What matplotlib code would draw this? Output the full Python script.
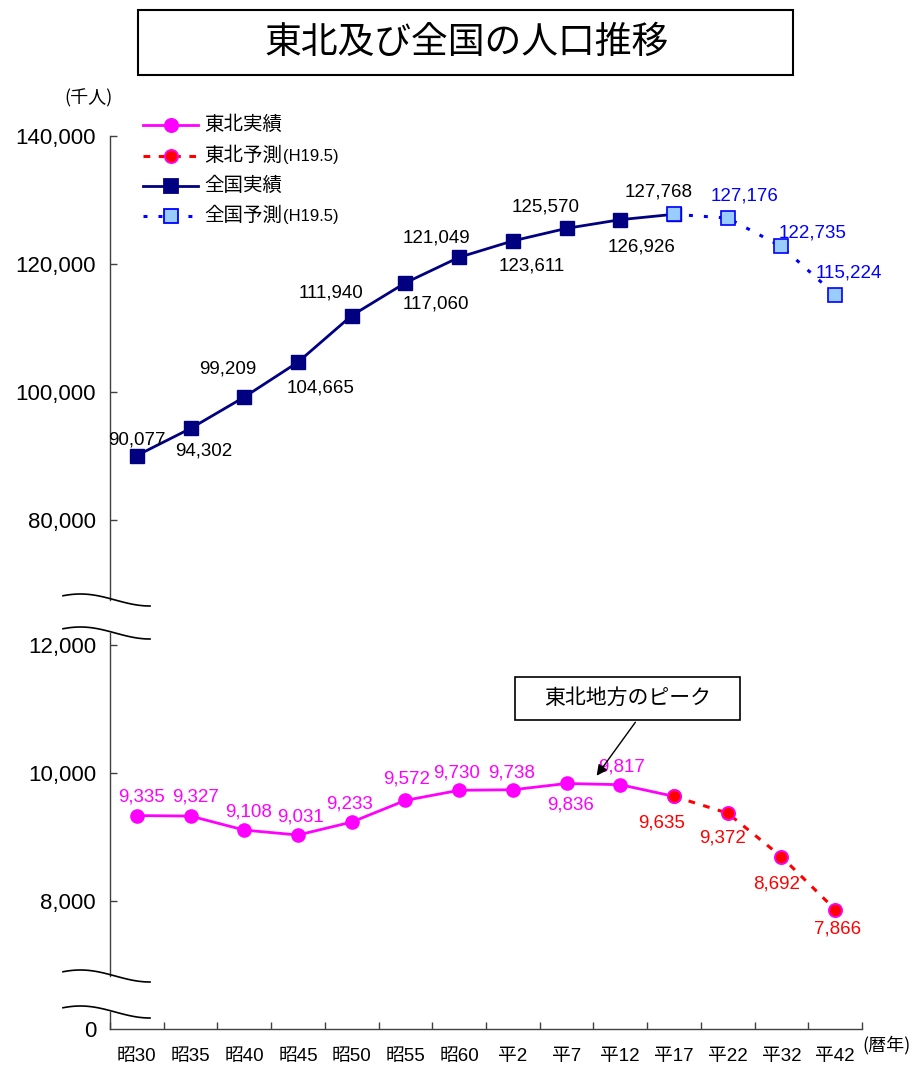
import matplotlib
matplotlib.use("Agg")
import matplotlib.pyplot as plt
from matplotlib.lines import Line2D
from matplotlib.patches import Rectangle, FancyArrowPatch
from matplotlib.ticker import FuncFormatter
import numpy as np

plt.rcParams['font.family'] = ['Liberation Sans', 'Noto Sans CJK JP', 'DejaVu Sans']
CJK_FIRST = ['Noto Sans CJK JP', 'Liberation Sans', 'DejaVu Sans']

# ---------------- data ----------------
years = ['昭30', '昭35', '昭40', '昭45', '昭50', '昭55', '昭60',
         '平2', '平7', '平12', '平17', '平22', '平32', '平42']
national_actual = [90077, 94302, 99209, 104665, 111940, 117060, 121049,
                   123611, 125570, 126926, 127768]
national_forecast = [127768, 127176, 122735, 115224]
tohoku_actual = [9335, 9327, 9108, 9031, 9233, 9572, 9730,
                 9738, 9836, 9817, 9635]
tohoku_forecast = [9635, 9372, 8692, 7866]

top_ticks = [80000, 100000, 120000, 140000]
mid_ticks = [8000, 10000, 12000]

# label offsets (pixels: right, up)
nat_act_off = [(0, 16), (13, -23), (-17, 28), (23, -26), (-21, 23), (30, -21),
               (-23, 19), (19, -25), (-21, 21), (21, -27), (-15, 22)]
nat_fc_off = [(17, 22), (31, 13), (14, 22)]
toh_act_off = [(5, 19), (5, 19), (4, 18), (2, 18), (-2, 18), (1, 21),
               (-3, 17), (-1, 17), (4, -22), (1, 18), (-12, -27)]
toh_fc_off = [(-5, -25), (-5, -27), (2, -19)]

W, H = 915, 1070
fig = plt.figure(figsize=(W / 100, H / 100), dpi=100)


def fx(x):
    return x / W


def fy(y):
    return 1 - y / H


L, R = 110, 862
NAVY = '#000080'
MAG = '#FF00FF'
RED = '#FF0000'
BLUE = '#0000FF'
LBLUE = '#99CCFF'
AXC = '#404040'

ax_top = fig.add_axes([fx(L), fy(600), (R - L) / W, (600 - 136) / H])
ax_mid = fig.add_axes([fx(L), fy(976), (R - L) / W, (976 - 633) / H])
ax_bot = fig.add_axes([fx(L), fy(1029), (R - L) / W, (1029 - 1012) / H])

n = len(years)
x_all = np.arange(n)
x_act = x_all[:len(national_actual)]
x_fc = x_all[len(national_actual) - 1:]

for ax in (ax_top, ax_mid, ax_bot):
    ax.set_xlim(-0.5, n - 0.5)
    ax.patch.set_alpha(0)
    for s in ('top', 'right', 'bottom'):
        ax.spines[s].set_visible(False)
    ax.spines['left'].set_color(AXC)
    ax.spines['left'].set_linewidth(1.0)
    ax.tick_params(axis='y', direction='in', length=5, width=1.0, color=AXC,
                   labelsize=16, pad=10)
    ax.tick_params(axis='x', bottom=False, labelbottom=False)

fmt = FuncFormatter(lambda v, p: f'{int(v):,}')

# top panel
ax_top.set_ylim(67500, 140000)
ax_top.set_yticks(top_ticks)
ax_top.yaxis.set_major_formatter(fmt)
ax_top.plot(x_act, national_actual, color=NAVY, lw=2, marker='s', ms=9.5,
            mfc=NAVY, mec=NAVY, zorder=3, clip_on=False)
ax_top.plot(x_fc, national_forecast, color=BLUE, lw=2.2, dashes=(1.3, 3.6),
            marker='s', ms=9.5, mfc=LBLUE, mec=BLUE, mew=1.2, zorder=4, clip_on=False)

for i, v in enumerate(national_actual):
    dx, dy = nat_act_off[i]
    ax_top.annotate(f'{v:,}', (x_all[i], v), xytext=(dx, dy), textcoords='offset pixels',
                    ha='center', va='center', fontsize=13.5, color='black', zorder=5)
for j, v in enumerate(national_forecast[1:]):
    dx, dy = nat_fc_off[j]
    i = len(national_actual) + j
    ax_top.annotate(f'{v:,}', (x_all[i], v), xytext=(dx, dy), textcoords='offset pixels',
                    ha='center', va='center', fontsize=13.5, color=BLUE, zorder=5)

# middle panel
ax_mid.set_ylim(6828, 12187.5)
ax_mid.set_yticks(mid_ticks)
ax_mid.yaxis.set_major_formatter(fmt)
ax_mid.plot(x_act, tohoku_actual, color=MAG, lw=2, marker='o', ms=9.5,
            mfc=MAG, mec=MAG, zorder=3, clip_on=False)
ax_mid.plot(x_fc, tohoku_forecast, color=RED, lw=2.2, dashes=(2.2, 2.8),
            marker='o', ms=9.5, mfc=RED, mec=MAG, mew=1.3, zorder=4, clip_on=False)

for i, v in enumerate(tohoku_actual):
    dx, dy = toh_act_off[i]
    col = RED if i == len(tohoku_actual) - 1 else MAG
    ax_mid.annotate(f'{v:,}', (x_all[i], v), xytext=(dx, dy), textcoords='offset pixels',
                    ha='center', va='center', fontsize=13.5, color=col, zorder=5)
for j, v in enumerate(tohoku_forecast[1:]):
    dx, dy = toh_fc_off[j]
    i = len(tohoku_actual) + j
    ax_mid.annotate(f'{v:,}', (x_all[i], v), xytext=(dx, dy), textcoords='offset pixels',
                    ha='center', va='center', fontsize=13.5, color=RED, zorder=5)

# bottom panel
ax_bot.set_ylim(0, 265)
ax_bot.set_yticks([0])
ax_bot.yaxis.set_major_formatter(fmt)
ax_bot.spines['bottom'].set_visible(True)
ax_bot.spines['bottom'].set_color(AXC)
ax_bot.spines['bottom'].set_linewidth(1.0)
ax_bot.tick_params(axis='y', length=0)
ax_bot.set_xticks(x_all)
ax_bot.set_xticklabels(years)
ax_bot.set_xticks(np.arange(-0.5, n, 1.0), minor=True)
ax_bot.tick_params(axis='x', which='major', bottom=True, labelbottom=True, length=0,
                   labelsize=13.5, pad=14)
ax_bot.tick_params(axis='x', which='minor', bottom=True, direction='in', length=5,
                   width=1.0, color=AXC)

# break marks
t = np.linspace(0, 1, 60)
phi = -0.25 * np.pi + 1.25 * np.pi * t
for yc in (600, 633, 976, 1012):
    xs = 63 + 87 * t
    ys = yc - 6 * np.cos(phi)
    fig.add_artist(Line2D(fx(xs), fy(ys), color='black', lw=1.2))

# axis unit labels
fig.text(fx(88), fy(98), '(千人)', ha='center', va='center', fontsize=13,
         family=CJK_FIRST)
fig.text(fx(886), fy(1045), '(暦年)', ha='center', va='center', fontsize=13,
         family=CJK_FIRST)

# title box
fig.add_artist(Rectangle((fx(138), fy(75)), (793 - 138) / W, (75 - 10) / H,
                         transform=fig.transFigure, fill=False, ec='black', lw=1.5))
fig.text(fx(467), fy(43), '東北及び全国の人口推移', ha='center', va='center', fontsize=26.5)

# annotation box
fig.add_artist(Rectangle((fx(515), fy(720)), (740 - 515) / W, (720 - 677) / H,
                         transform=fig.transFigure, fc='white', ec='black', lw=1.2))
fig.text(fx(628), fy(698), '東北地方のピーク', ha='center', va='center', fontsize=15)
fig.add_artist(FancyArrowPatch((fx(637), fy(720)), (fx(595), fy(778)),
                               transform=fig.transFigure, arrowstyle='-|>',
                               mutation_scale=16, color='black', lw=1))

# legend
leg_rows = [
    (125, MAG, 'solid', 'o', MAG, MAG, '東北実績', ''),
    (156, RED, 'dash', 'o', RED, MAG, '東北予測', '(H19.5)'),
    (186, NAVY, 'solid', 's', NAVY, NAVY, '全国実績', ''),
    (216, BLUE, 'dot', 's', LBLUE, BLUE, '全国予測', '(H19.5)'),
]
for yy, col, ls, mk, mfc, mec, lab, sub in leg_rows:
    kw = dict(color=col, lw=2)
    if ls == 'dash':
        kw.update(dashes=(2.2, 2.8), lw=2.2)
    elif ls == 'dot':
        kw.update(dashes=(1.3, 3.6), lw=2.2)
    fig.add_artist(Line2D([fx(143), fx(198)], [fy(yy), fy(yy)], **kw))
    fig.add_artist(Line2D([fx(171)], [fy(yy)], marker=mk, ms=9.5, mfc=mfc, mec=mec,
                          mew=1.3, ls='none'))
    fig.text(fx(204), fy(yy), lab, ha='left', va='center', fontsize=14)
    if sub:
        fig.text(fx(283), fy(yy + 1), sub, ha='left', va='center', fontsize=12)

fig.savefig('out.png', dpi=100)
